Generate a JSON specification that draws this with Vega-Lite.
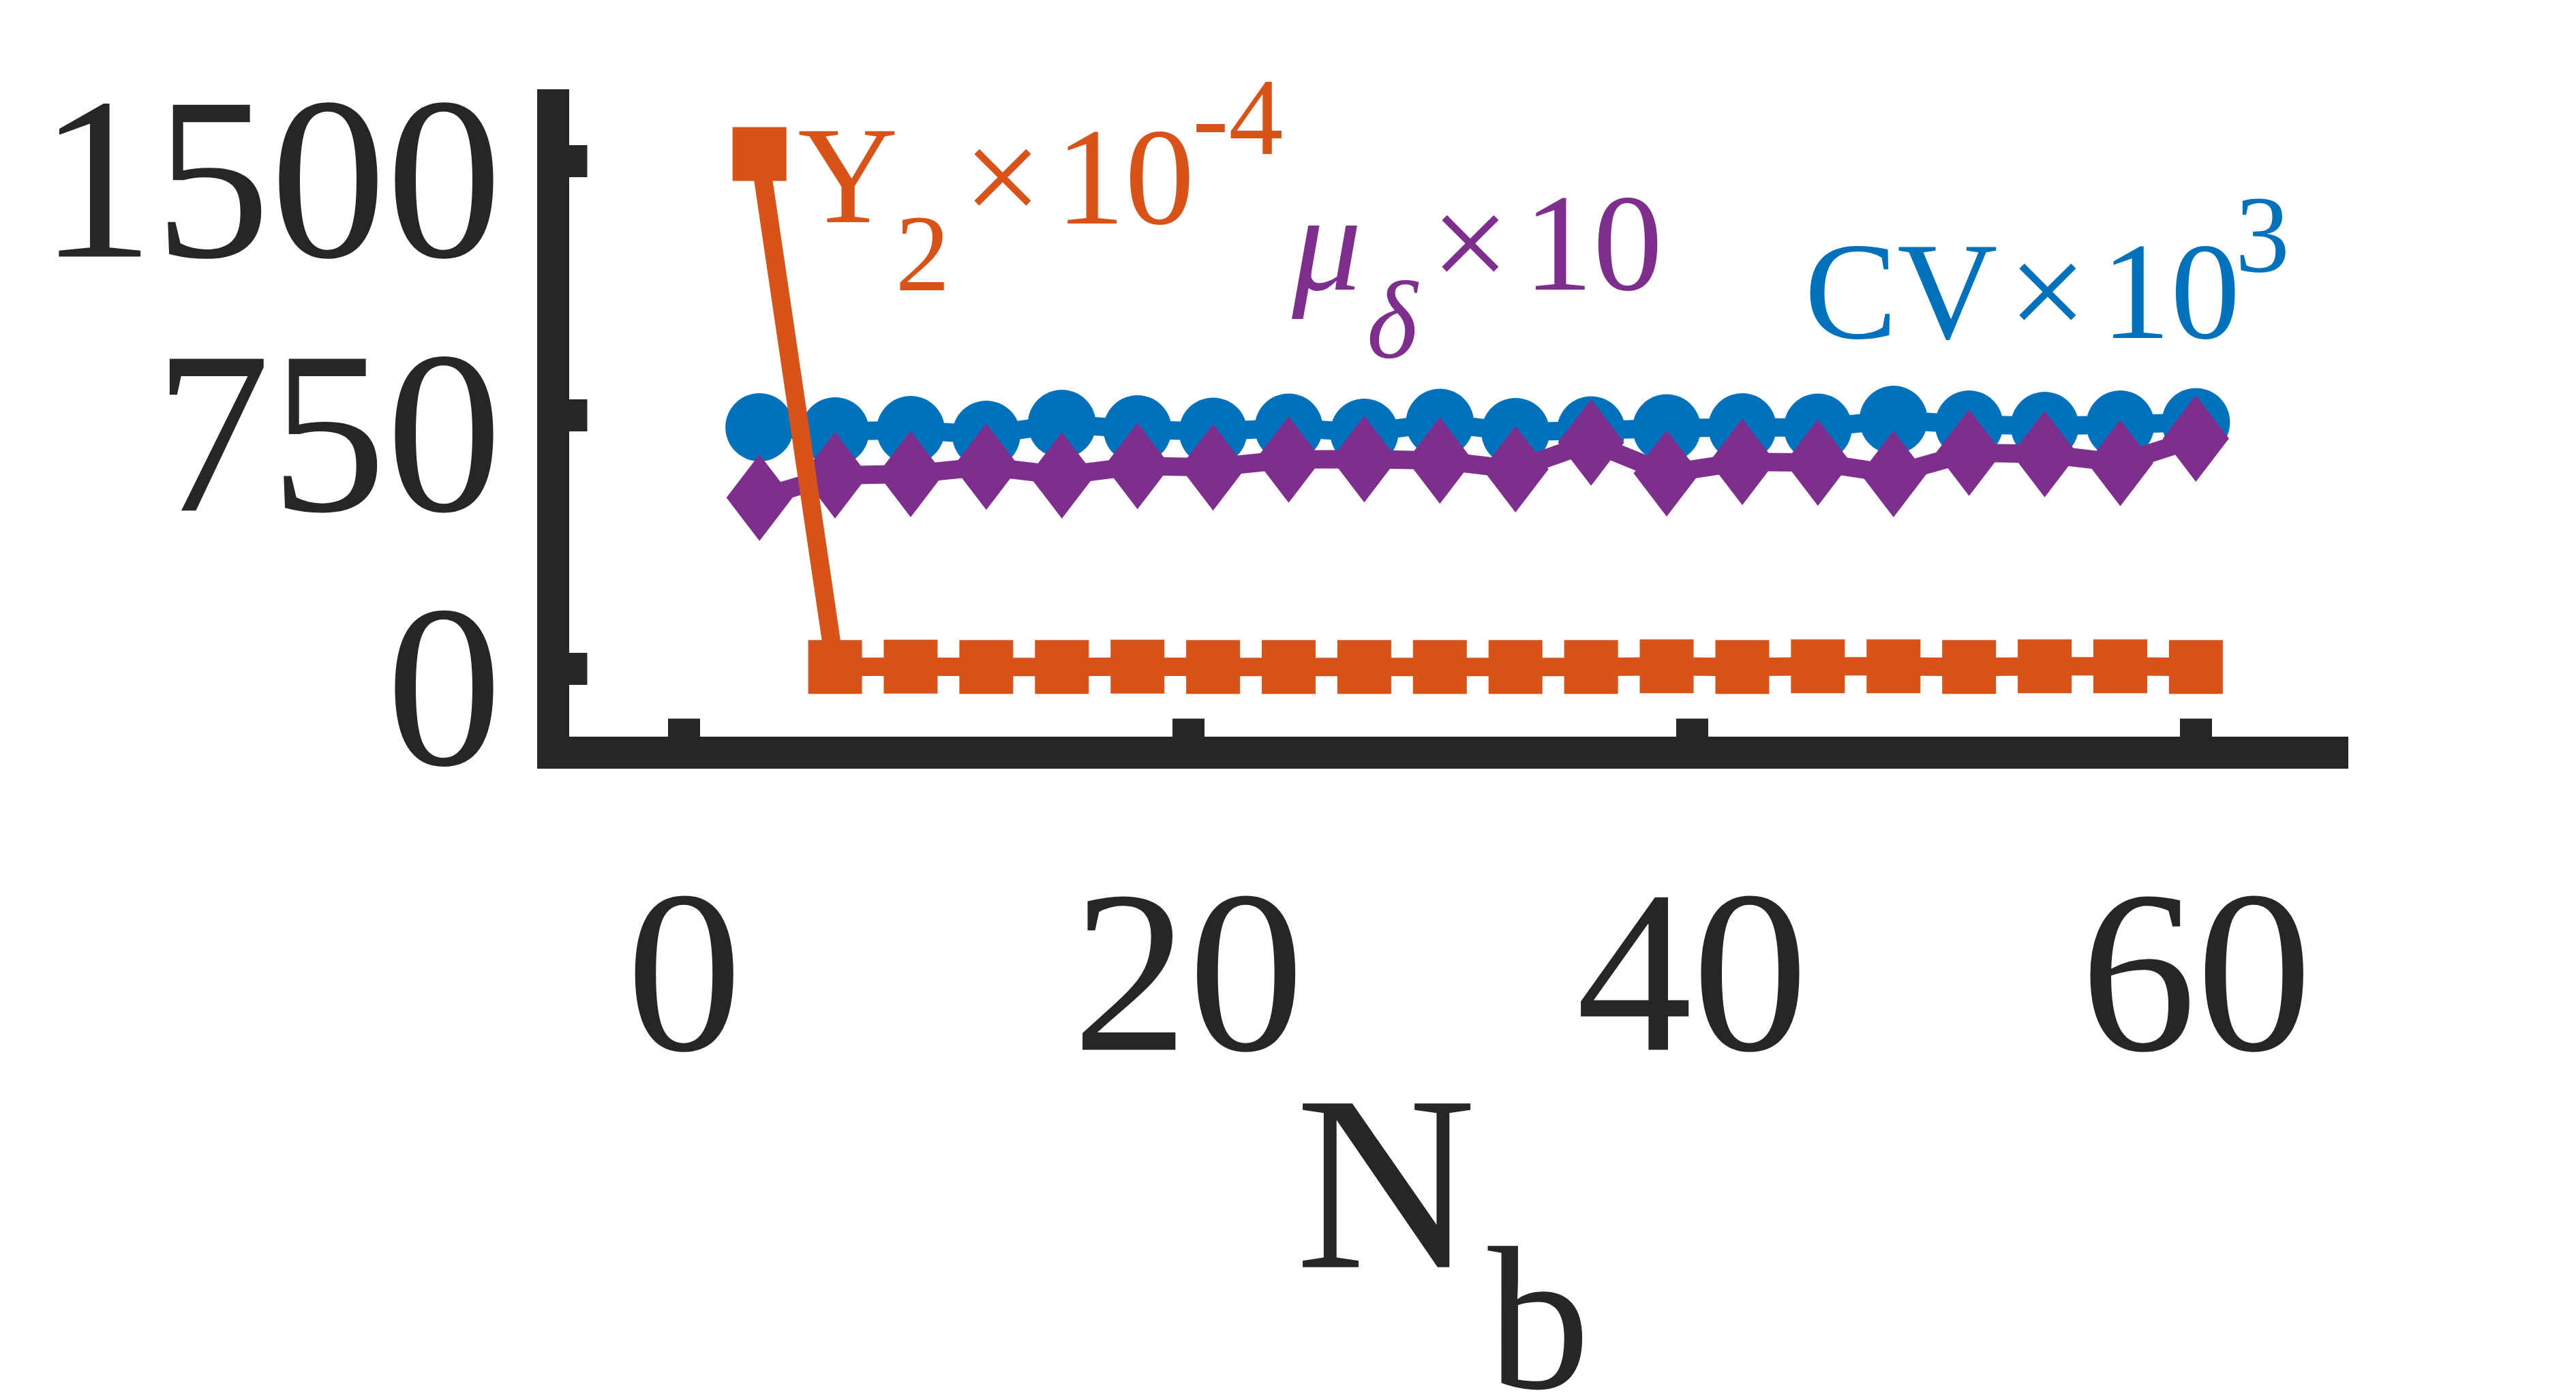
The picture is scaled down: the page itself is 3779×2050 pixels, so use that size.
{
  "$schema": "https://vega.github.io/schema/vega-lite/v6.json",
  "width": 2610,
  "height": 950,
  "autosize": {"type": "none"},
  "padding": {"left": 811, "top": 154, "right": 358, "bottom": 946},
  "background": "white",
  "config": {"view": {"stroke": null}, "font": "Liberation Serif"},
  "datasets": {
    "pts": [
      {"s": "CV", "x": 3, "y": 713}, {"s": "CV", "x": 6, "y": 701}, {"s": "CV", "x": 9, "y": 705}, {"s": "CV", "x": 12, "y": 691},
      {"s": "CV", "x": 15, "y": 723}, {"s": "CV", "x": 18, "y": 707}, {"s": "CV", "x": 21, "y": 700}, {"s": "CV", "x": 24, "y": 712},
      {"s": "CV", "x": 27, "y": 697}, {"s": "CV", "x": 30, "y": 726}, {"s": "CV", "x": 33, "y": 699}, {"s": "CV", "x": 36, "y": 704},
      {"s": "CV", "x": 39, "y": 710}, {"s": "CV", "x": 42, "y": 713}, {"s": "CV", "x": 45, "y": 712}, {"s": "CV", "x": 48, "y": 735},
      {"s": "CV", "x": 51, "y": 721}, {"s": "CV", "x": 54, "y": 717}, {"s": "CV", "x": 57, "y": 721}, {"s": "CV", "x": 60, "y": 728},
      {"s": "mu", "x": 3, "y": 505}, {"s": "mu", "x": 6, "y": 571}, {"s": "mu", "x": 9, "y": 575}, {"s": "mu", "x": 12, "y": 597},
      {"s": "mu", "x": 15, "y": 571}, {"s": "mu", "x": 18, "y": 599}, {"s": "mu", "x": 21, "y": 595}, {"s": "mu", "x": 24, "y": 618},
      {"s": "mu", "x": 27, "y": 619}, {"s": "mu", "x": 30, "y": 615}, {"s": "mu", "x": 33, "y": 589}, {"s": "mu", "x": 36, "y": 668},
      {"s": "mu", "x": 39, "y": 577}, {"s": "mu", "x": 42, "y": 611}, {"s": "mu", "x": 45, "y": 609}, {"s": "mu", "x": 48, "y": 575},
      {"s": "mu", "x": 51, "y": 638}, {"s": "mu", "x": 54, "y": 634}, {"s": "mu", "x": 57, "y": 608}, {"s": "mu", "x": 60, "y": 680},
      {"s": "Y2", "x": 3, "y": 1520}, {"s": "Y2", "x": 6, "y": 5}, {"s": "Y2", "x": 9, "y": 6}, {"s": "Y2", "x": 12, "y": 5},
      {"s": "Y2", "x": 15, "y": 5}, {"s": "Y2", "x": 18, "y": 6}, {"s": "Y2", "x": 21, "y": 5}, {"s": "Y2", "x": 24, "y": 5},
      {"s": "Y2", "x": 27, "y": 5}, {"s": "Y2", "x": 30, "y": 5}, {"s": "Y2", "x": 33, "y": 5}, {"s": "Y2", "x": 36, "y": 5},
      {"s": "Y2", "x": 39, "y": 7}, {"s": "Y2", "x": 42, "y": 5}, {"s": "Y2", "x": 45, "y": 7}, {"s": "Y2", "x": 48, "y": 7},
      {"s": "Y2", "x": 51, "y": 5}, {"s": "Y2", "x": 54, "y": 7}, {"s": "Y2", "x": 57, "y": 7}, {"s": "Y2", "x": 60, "y": 5}
    ],
    "txt": [
      {"s": "Y2", "k": "m", "t": "Y", "x": 4.52, "y": 1319},
      {"s": "Y2", "k": "s", "t": "2", "x": 8.39, "y": 1117},
      {"s": "Y2", "k": "m", "t": "×", "x": 11.09, "y": 1315},
      {"s": "Y2", "k": "m", "t": "10", "x": 14.74, "y": 1315},
      {"s": "Y2", "k": "s", "t": "-4", "x": 20.18, "y": 1520},
      {"s": "mu", "k": "i", "t": "μ", "x": 24.13, "y": 1119},
      {"s": "mu", "k": "si", "t": "δ", "x": 27.10, "y": 920},
      {"s": "mu", "k": "m", "t": "×", "x": 29.65, "y": 1119},
      {"s": "mu", "k": "m", "t": "10", "x": 33.32, "y": 1119},
      {"s": "CV", "k": "m", "t": "CV", "x": 44.47, "y": 976},
      {"s": "CV", "k": "m", "t": "×", "x": 52.56, "y": 976},
      {"s": "CV", "k": "m", "t": "10", "x": 56.24, "y": 976},
      {"s": "CV", "k": "s", "t": "3", "x": 61.56, "y": 1174}
    ]
  },
  "encoding": {
    "x": {
      "field": "x", "type": "quantitative",
      "scale": {"domain": [-5.2, 65.4], "nice": false, "zero": false},
      "axis": {
        "values": [0, 20, 40, 60], "format": "d", "grid": false,
        "title": "N", "titleFont": "Liberation Serif", "titleFontSize": 367, "titleFontWeight": "normal",
        "titleColor": "#262626", "titleAlign": "left", "titleBaseline": "alphabetic", "titleAnchor": null,
        "titleX": 1089, "titleY": 755, "titleLimit": 0,
        "labelFont": "Liberation Serif", "labelFontSize": 340, "labelColor": "#262626", "labelLimit": 0,
        "labelBaseline": "alphabetic", "labelPadding": 486, "labelFlush": false, "labelOverlap": false, "labelBound": false,
        "domainColor": "#262626", "domainWidth": 47, "domainCap": "square",
        "tickColor": "#262626", "tickWidth": 47, "tickSize": -50
      }
    },
    "y": {
      "field": "y", "type": "quantitative",
      "scale": {"domain": [-247, 1665], "nice": false, "zero": false},
      "axis": {
        "values": [0, 750, 1500], "format": "d", "grid": false,
        "title": "b", "titleFont": "Liberation Serif", "titleFontSize": 300, "titleFontWeight": "normal",
        "titleColor": "#262626", "titleAngle": 0, "titleAlign": "left", "titleBaseline": "alphabetic", "titleAnchor": null,
        "titleX": 1371, "titleY": 1882, "titleLimit": 0,
        "labelFont": "Liberation Serif", "labelFontSize": 340, "labelColor": "#262626", "labelLimit": 0,
        "labelBaseline": "alphabetic", "labelOffset": 140, "labelPadding": 125, "labelFlush": false, "labelOverlap": false, "labelBound": false,
        "domainColor": "#262626", "domainWidth": 47, "domainCap": "square",
        "tickColor": "#262626", "tickWidth": 47, "tickSize": -50
      }
    },
    "color": {
      "field": "s", "type": "nominal",
      "scale": {"domain": ["CV", "mu", "Y2"], "range": ["#0072BD", "#7E2F8E", "#D95319"]},
      "legend": null
    }
  },
  "layer": [
    {"data": {"name": "pts"}, "transform": [{"filter": "datum.s === 'CV'"}], "mark": {"type": "line", "strokeWidth": 27}},
    {"data": {"name": "pts"}, "transform": [{"filter": "datum.s === 'CV'"}], "mark": {"type": "point", "shape": "circle", "filled": true, "opacity": 1, "size": 10000}},
    {"data": {"name": "pts"}, "transform": [{"filter": "datum.s === 'mu'"}], "mark": {"type": "line", "strokeWidth": 27}},
    {"data": {"name": "pts"}, "transform": [{"filter": "datum.s === 'mu'"}], "mark": {"type": "point", "shape": "M-0.764,0L0,-1L0.764,0L0,1Z", "filled": true, "opacity": 1, "size": 16129}},
    {"data": {"name": "pts"}, "transform": [{"filter": "datum.s === 'Y2'"}], "mark": {"type": "line", "strokeWidth": 27}},
    {"data": {"name": "pts"}, "transform": [{"filter": "datum.s === 'Y2'"}], "mark": {"type": "point", "shape": "square", "filled": true, "opacity": 1, "size": 6241}},
    {"data": {"name": "txt"}, "transform": [{"filter": "datum.k === 'm'"}], "mark": {"type": "text", "align": "left", "baseline": "alphabetic", "font": "Liberation Serif", "fontSize": 204}, "encoding": {"text": {"field": "t"}}},
    {"data": {"name": "txt"}, "transform": [{"filter": "datum.k === 'i'"}], "mark": {"type": "text", "align": "left", "baseline": "alphabetic", "font": "Liberation Serif", "fontStyle": "italic", "fontSize": 204}, "encoding": {"text": {"field": "t"}}},
    {"data": {"name": "txt"}, "transform": [{"filter": "datum.k === 's'"}], "mark": {"type": "text", "align": "left", "baseline": "alphabetic", "font": "Liberation Serif", "fontSize": 160}, "encoding": {"text": {"field": "t"}}},
    {"data": {"name": "txt"}, "transform": [{"filter": "datum.k === 'si'"}], "mark": {"type": "text", "align": "left", "baseline": "alphabetic", "font": "Liberation Serif", "fontStyle": "italic", "fontSize": 160}, "encoding": {"text": {"field": "t"}}}
  ]
}
